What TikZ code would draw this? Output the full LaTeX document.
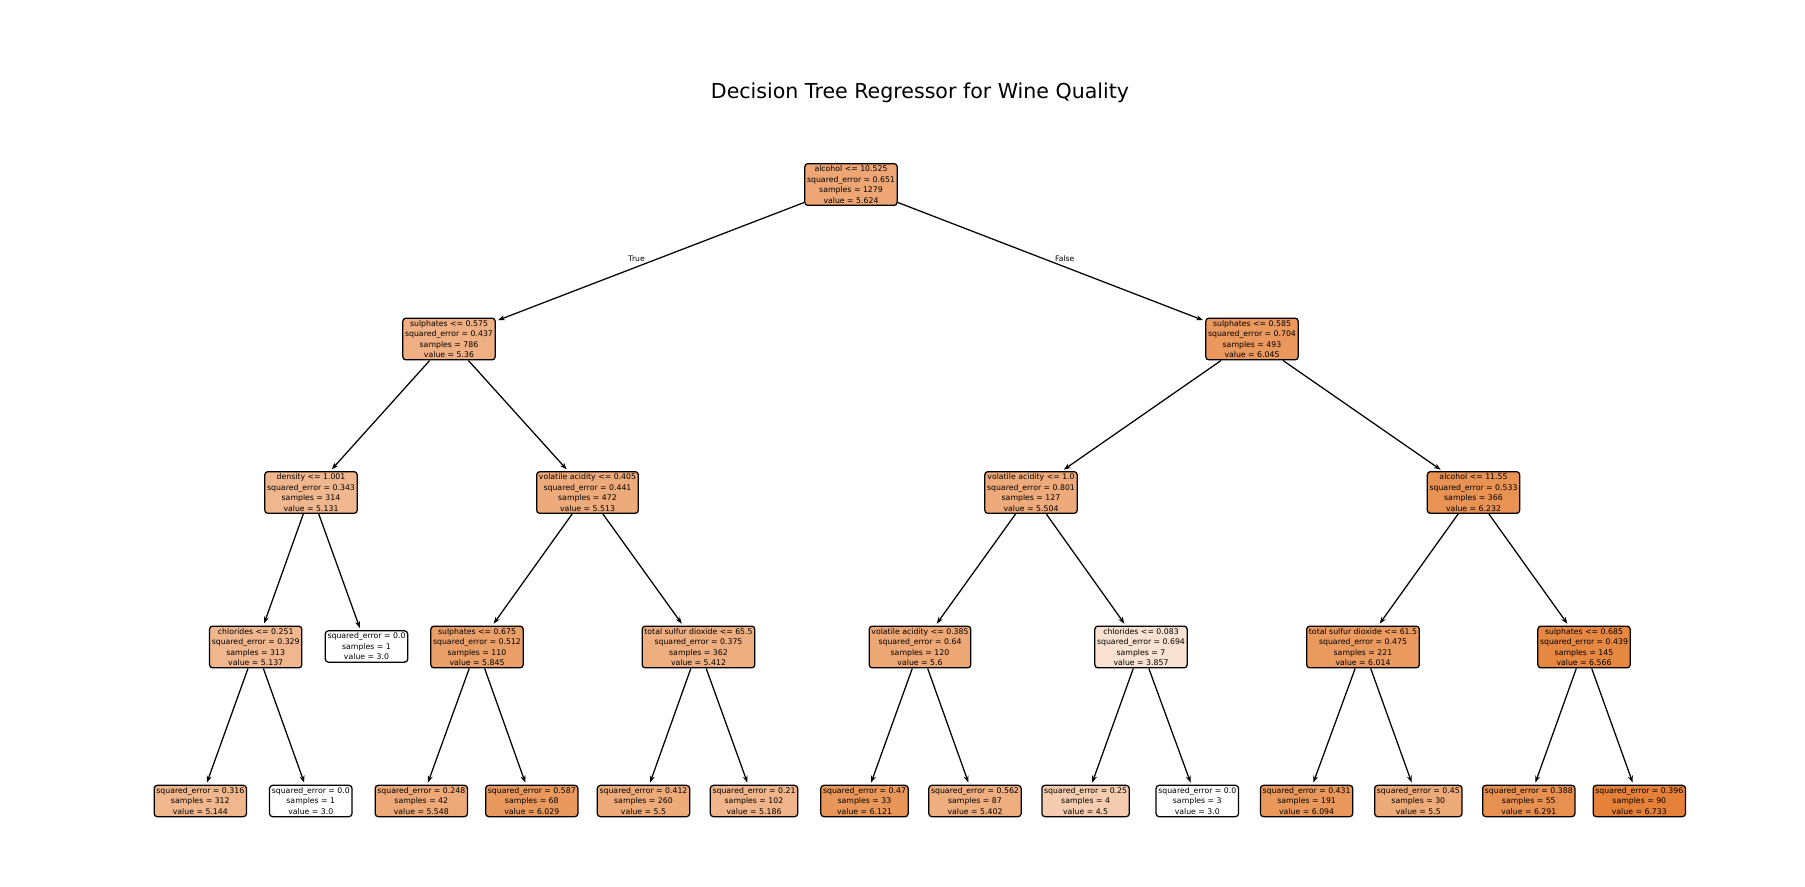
\documentclass[tikz,border=0pt]{standalone}
\usepackage{fontspec}
\setmainfont{DejaVu Sans}
\usetikzlibrary{arrows.meta}
\definecolor{wine}{RGB}{229,129,57}
\begin{document}
\begin{tikzpicture}[x=0.72pt,y=-0.72pt,
  tn/.style={draw=black, line width=0.9pt, rounded corners=2.2pt, inner sep=1.6pt,
    align=center, font=\fontsize{5.6}{7.5}\selectfont, text=black},
  arr/.style={line width=0.9pt, -{Stealth[length=5pt,width=3.6pt]}, shorten >=1.6pt},
  lbl/.style={font=\fontsize{5.5}{7}\selectfont, inner sep=0pt}]
\useasboundingbox (0,0) rectangle (1805,886);
\node[font=\fontsize{14.8}{17}\selectfont] (title) at (920,93) {Decision Tree Regressor for Wine Quality};
% level 0
\node[tn, fill=wine!70.3] (root) at (851,184.5) {alcohol <= 10.525\\squared\_error = 0.651\\samples = 1279\\value = 5.624};
% level 1
\node[tn, fill=wine!63.2] (a) at (449,339) {sulphates <= 0.575\\squared\_error = 0.437\\samples = 786\\value = 5.36};
\node[tn, fill=wine!81.6] (b) at (1252,339) {sulphates <= 0.585\\squared\_error = 0.704\\samples = 493\\value = 6.045};
% level 2
\node[tn, fill=wine!57.1] (aa) at (311,492.5) {density <= 1.001\\squared\_error = 0.343\\samples = 314\\value = 5.131};
\node[tn, fill=wine!67.3] (ab) at (587.5,492.5) {volatile acidity <= 0.405\\squared\_error = 0.441\\samples = 472\\value = 5.513};
\node[tn, fill=wine!67.1] (ba) at (1031,492.5) {volatile acidity <= 1.0\\squared\_error = 0.801\\samples = 127\\value = 5.504};
\node[tn, fill=wine!86.6] (bb) at (1473.5,492.5) {alcohol <= 11.55\\squared\_error = 0.533\\samples = 366\\value = 6.232};
% level 3
\node[tn, fill=wine!57.2] (aaa) at (255.7,647) {chlorides <= 0.251\\squared\_error = 0.329\\samples = 313\\value = 5.137};
\node[tn, fill=white] (aab) at (366.5,646.5) {squared\_error = 0.0\\samples = 1\\value = 3.0};
\node[tn, fill=wine!76.2] (aba) at (477,647) {sulphates <= 0.675\\squared\_error = 0.512\\samples = 110\\value = 5.845};
\node[tn, fill=wine!64.6] (abb) at (698.5,647) {total sulfur dioxide <= 65.5\\squared\_error = 0.375\\samples = 362\\value = 5.412};
\node[tn, fill=wine!69.6] (baa) at (920,647) {volatile acidity <= 0.385\\squared\_error = 0.64\\samples = 120\\value = 5.6};
\node[tn, fill=wine!23.0] (bab) at (1141,647) {chlorides <= 0.083\\squared\_error = 0.694\\samples = 7\\value = 3.857};
\node[tn, fill=wine!80.7] (bba) at (1363,647) {total sulfur dioxide <= 61.5\\squared\_error = 0.475\\samples = 221\\value = 6.014};
\node[tn, fill=wine!95.5] (bbb) at (1584,647) {sulphates <= 0.685\\squared\_error = 0.439\\samples = 145\\value = 6.566};
% level 4
\node[tn, fill=wine!57.4] (aaaa) at (200.3,801) {squared\_error = 0.316\\samples = 312\\value = 5.144};
\node[tn, fill=white] (aaab) at (310.8,801) {squared\_error = 0.0\\samples = 1\\value = 3.0};
\node[tn, fill=wine!68.3] (abaa) at (421.3,801) {squared\_error = 0.248\\samples = 42\\value = 5.548};
\node[tn, fill=wine!81.1] (abab) at (531.8,801) {squared\_error = 0.587\\samples = 68\\value = 6.029};
\node[tn, fill=wine!67.0] (abba) at (643.5,801) {squared\_error = 0.412\\samples = 260\\value = 5.5};
\node[tn, fill=wine!58.6] (abbb) at (754,801) {squared\_error = 0.21\\samples = 102\\value = 5.186};
\node[tn, fill=wine!83.6] (baaa) at (864.5,801) {squared\_error = 0.47\\samples = 33\\value = 6.121};
\node[tn, fill=wine!64.3] (baab) at (975,801) {squared\_error = 0.562\\samples = 87\\value = 5.402};
\node[tn, fill=wine!40.2] (baba) at (1085.6,801) {squared\_error = 0.25\\samples = 4\\value = 4.5};
\node[tn, fill=white] (babb) at (1197.3,801) {squared\_error = 0.0\\samples = 3\\value = 3.0};
\node[tn, fill=wine!82.9] (bbaa) at (1306.6,801) {squared\_error = 0.431\\samples = 191\\value = 6.094};
\node[tn, fill=wine!67.0] (bbab) at (1418.3,801) {squared\_error = 0.45\\samples = 30\\value = 5.5};
\node[tn, fill=wine!88.2] (bbba) at (1528.8,801) {squared\_error = 0.388\\samples = 55\\value = 6.291};
\node[tn, fill=wine!100] (bbbb) at (1639.3,801) {squared\_error = 0.396\\samples = 90\\value = 6.733};
% edges
\draw[arr] (root) -- (a);
\draw[arr] (root) -- (b);
\draw[arr] (a) -- (aa);
\draw[arr] (a) -- (ab);
\draw[arr] (b) -- (ba);
\draw[arr] (b) -- (bb);
\draw[arr] (aa) -- (aaa);
\draw[arr] (aa) -- (aab);
\draw[arr] (ab) -- (aba);
\draw[arr] (ab) -- (abb);
\draw[arr] (ba) -- (baa);
\draw[arr] (ba) -- (bab);
\draw[arr] (bb) -- (bba);
\draw[arr] (bb) -- (bbb);
\draw[arr] (aaa) -- (aaaa);
\draw[arr] (aaa) -- (aaab);
\draw[arr] (aba) -- (abaa);
\draw[arr] (aba) -- (abab);
\draw[arr] (abb) -- (abba);
\draw[arr] (abb) -- (abbb);
\draw[arr] (baa) -- (baaa);
\draw[arr] (baa) -- (baab);
\draw[arr] (bab) -- (baba);
\draw[arr] (bab) -- (babb);
\draw[arr] (bba) -- (bbaa);
\draw[arr] (bba) -- (bbab);
\draw[arr] (bbb) -- (bbba);
\draw[arr] (bbb) -- (bbbb);
% labels
\node[lbl] (lblT) at (636.6,259) {True};
\node[lbl] (lblF) at (1064.8,259) {False};
\end{tikzpicture}
\end{document}
